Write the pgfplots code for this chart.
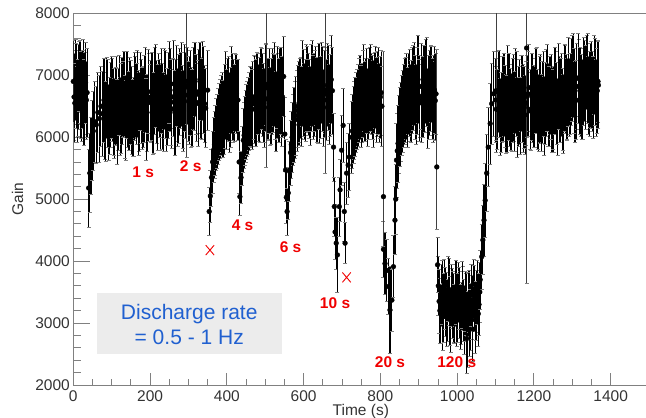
\documentclass[border=0pt]{standalone}
\usepackage{fontspec}
\setmainfont{Liberation Sans}
\usepackage{pgfplots}
\usepackage{pgfplotstable}
\pgfplotsset{compat=1.18}
\definecolor{axgray}{RGB}{128,128,128}
\definecolor{txtblue}{RGB}{32,96,208}
\definecolor{boxgray}{RGB}{236,236,236}
\definecolor{lblred}{RGB}{240,0,0}

\pgfplotstableread{
x y e
0 6900 660
4 6550 640
8 6830 690
12 6630 620
16 6980 560
20 6690 700
24 6770 630
28 6560 690
32 6880 650
36 6720 720
40 5180 630
43 5420 640
46 5700 620
49 5950 650
52 6100 640
56 6250 660
60 6200 620
64 6400 650
68 6300 700
72 6500 640
76 6380 690
80 6600 680
85 6255 640
90 6540 710
95 6345 620
100 6650 660
105 6415 700
110 6500 630
115 6245 690
120 6680 650
125 6465 720
130 6610 610
135 6335 670
140 6680 700
145 6425 640
150 6560 680
155 6315 620
160 6660 710
165 6535 650
170 6390 690
175 6745 630
180 6470 660
185 6615 700
190 6290 660
195 6735 680
200 6560 620
205 6665 710
210 6390 650
215 6825 670
220 6480 690
225 6625 630
230 6750 680
235 6405 640
240 6690 710
245 6495 620
250 6880 660
255 6565 700
260 6650 630
265 6395 690
270 6830 650
275 6615 720
280 6760 610
285 6485 670
290 6800 700
300 6580 640
305 6715 680
310 6470 620
315 6815 710
320 6690 650
325 6545 690
330 6900 630
335 6620 660
340 6760 700
345 6470 640
350 6760 650
354 4800 390
357 5050 420
360 5350 460
363 5600 500
366 5800 520
370 5950 560
375 6100 600
380 6250 620
385 6350 650
390 6300 620
395 6500 680
400 6450 640
405 6620 690
410 6480 650
415 6650 700
420 6550 620
425 6700 640
429 6600 650
432 5600 500
434 5040 300
437 5350 420
440 5700 480
443 5950 520
447 6100 560
451 6250 600
456 6350 620
461 6500 650
466 6450 640
471 6650 680
476 6550 700
481 6700 650
486 6600 690
491 6780 660
496 6550 640
501 6800 700
506 6620 650
511 6750 680
516 6580 700
521 6720 640
526 6650 690
531 6800 660
536 6600 680
541 6750 700
545 6650 650
548 6980 650
551 6050 600
553 5470 500
555 5030 420
557 4800 380
560 5100 420
563 5450 480
566 5750 520
570 6000 560
575 6200 600
580 6350 640
585 6500 660
590 6600 680
595 6500 650
600 6720 700
605 6600 660
610 6780 690
615 6620 640
620 6800 700
625 6650 680
630 6750 650
635 6600 690
640 6820 700
645 6650 660
650 6780 680
655 6700 700
660 6600 650
665 6800 690
670 6680 660
675 6750 700
678 5840 550
680 4880 480
682 4470 440
685 4290 420
688 4100 600
693 4880 480
695 5150 500
699 5790 560
703 6190 600
706 4800 480
708 4290 330
712 5420 500
716 5550 520
719 5680 540
725 6000 580
730 6200 620
734 6330 640
740 6450 650
745 6600 680
750 6500 660
755 6700 700
760 6580 650
765 6750 690
770 6620 660
775 6800 700
780 6650 680
785 6720 650
790 6600 690
795 6750 700
800 6650 660
804 6500 650
808 4190 450
812 3960 500
817 3850 500
821 3590 450
825 3210 700
830 3370 500
834 3910 500
838 4660 550
840 5000 560
842 5630 600
846 5900 620
851 6170 640
856 6350 650
861 6500 670
866 6600 690
871 6480 650
876 6720 700
881 6580 660
886 6800 690
891 6650 680
896 6750 700
901 6600 660
906 6820 690
911 6650 650
916 6780 700
921 6900 720
926 6650 680
931 6780 690
936 6620 660
941 6760 700
945 6700 660
949 3940 450
953 3350 520
957 3150 480
961 3500 520
965 3250 560
969 3400 500
973 3100 480
977 3550 520
981 3200 560
985 3450 500
989 3300 540
993 3150 480
997 3500 520
1001 3250 560
1005 3400 500
1009 3100 520
1013 3450 540
1017 3200 500
1021 3350 480
1025 2750 560
1029 3300 520
1033 3000 540
1037 3450 500
1041 2900 520
1045 3400 540
1049 3200 480
1053 3500 520
1057 3300 500
1060 3700 480
1064 4070 520
1067 4340 560
1070 4660 580
1073 4980 600
1077 5420 620
1081 5840 640
1086 6220 650
1090 6540 660
1095 6700 680
1100 6600 680
1105 6450 650
1110 6700 700
1115 6400 640
1120 6620 690
1125 6500 660
1130 6380 620
1135 6650 700
1140 6450 660
1145 6600 680
1150 6420 640
1155 6700 690
1160 6500 650
1165 6350 620
1170 6620 700
1175 6480 660
1180 6550 680
1185 6700 690
1190 6450 650
1195 6650 700
1200 6500 660
1205 6750 690
1210 6450 640
1215 6600 700
1220 6400 620
1225 6700 680
1230 6550 660
1235 6800 700
1240 6500 650
1245 6650 690
1250 6450 640
1255 6750 700
1260 6550 660
1265 6820 690
1270 6600 680
1275 6450 660
1280 6800 700
1285 6650 690
1290 6900 720
1295 6700 660
1300 6950 700
1305 6750 680
1310 6600 640
1315 6950 720
1320 6750 700
1325 6650 690
1330 6900 710
1335 6800 680
1340 6950 720
1345 6700 690
1350 6850 700
1355 6650 660
1360 6900 700
1365 6750 690
1368 6840 700
}\gaindata

\pgfplotstableread{
x y e
2 6650 700
6 6930 650
10 6530 620
14 6810 690
18 6890 670
22 6580 640
26 6980 600
30 6710 660
34 6600 630
82 6350 700
87 6635 650
92 6240 620
97 6525 690
102 6610 670
107 6305 640
112 6600 710
117 6445 660
122 6340 630
127 6585 700
132 6700 680
137 6275 650
142 6530 690
147 6675 620
152 6440 710
157 6335 640
162 6640 660
167 6700 700
172 6410 630
177 6585 680
182 6490 650
187 6765 690
192 6400 620
197 6645 710
202 6580 660
207 6365 640
212 6750 700
217 6565 670
222 6720 630
227 6485 690
232 6500 700
237 6785 650
242 6390 620
247 6675 690
252 6760 670
257 6455 640
262 6860 710
267 6595 660
272 6490 630
277 6735 700
282 6850 680
287 6425 650
292 6680 690
297 6825 620
302 6590 710
307 6485 640
312 6790 660
317 6935 600
322 6560 630
327 6735 680
332 6640 650
337 6910 640
342 6540 620
368 5880 540
373 6050 580
378 6180 610
383 6300 640
388 6400 650
393 6380 660
397 6680 710
402 6610 660
407 6400 640
412 6770 700
417 6580 670
422 6730 630
445 6030 540
449 6180 580
453 6300 610
458 6420 630
463 6480 650
468 6540 690
473 6600 700
478 6720 650
483 6560 620
488 6760 690
493 6690 670
498 6480 640
503 6850 660
508 6610 660
513 6500 630
518 6740 700
523 6850 680
528 6420 650
533 6670 690
538 6810 620
543 6570 710
568 5880 540
573 6120 580
578 6280 620
583 6430 650
588 6550 680
592 6640 650
597 6870 690
602 6580 620
607 6790 710
612 6690 660
617 6510 640
622 6870 700
627 6680 670
632 6830 630
637 6590 690
642 6600 700
647 6880 650
652 6480 620
657 6760 690
662 6840 670
667 6530 640
672 6930 710
727 6100 600
732 6270 630
737 6400 650
742 6520 660
747 6650 680
752 6560 640
757 6800 700
762 6620 660
767 6480 630
772 6760 690
777 6700 650
782 6540 700
787 6800 660
792 6700 680
797 6560 640
802 6720 690
844 5780 610
848 6050 630
853 6250 640
858 6420 660
863 6580 690
868 6660 700
873 6700 650
878 6560 620
883 6760 690
888 6860 670
893 6530 640
898 6930 710
903 6660 660
908 6550 630
913 6790 700
918 6900 680
923 6470 650
928 6720 690
933 6860 620
938 6620 710
943 6590 640
951 3600 480
955 3200 520
959 3450 500
963 3100 540
967 3550 480
971 3300 520
975 3200 500
979 3500 540
983 3050 520
987 3400 480
991 3250 560
995 3450 500
999 3150 520
1003 3500 480
1007 3300 540
1011 3150 500
1015 3400 520
1019 3050 560
1023 3300 500
1027 2900 620
1031 3350 500
1035 3100 540
1039 3250 520
1043 3550 480
1047 3050 540
1051 3350 500
1055 3150 520
1059 3500 480
1102 6450 700
1107 6730 650
1112 6330 620
1117 6610 690
1122 6690 670
1127 6380 640
1132 6780 710
1137 6510 660
1142 6400 630
1147 6640 700
1152 6750 680
1157 6320 650
1162 6570 690
1167 6710 620
1172 6470 710
1177 6360 640
1182 6660 660
1187 6800 700
1192 6420 630
1197 6590 680
1202 6490 650
1207 6760 690
1212 6390 620
1217 6630 710
1222 6560 660
1227 6340 640
1232 6720 700
1237 6530 670
1242 6680 630
1247 6440 690
1252 6450 700
1257 6730 650
1262 6330 620
1267 6610 690
1272 6690 670
1277 6380 640
1282 6780 710
1287 6610 660
1292 6650 630
1297 6890 700
1302 7000 680
1307 6570 650
1312 6820 690
1317 6960 620
1322 6720 710
1327 6610 640
1332 6910 660
1337 7050 600
1342 6670 630
1347 6840 680
1352 6740 650
1357 7010 640
1362 6640 620
1367 6900 660
}\gaindatab

\pgfplotstableread{
x y ep em
295 6900 1300 1220
502 6800 1400 1280
656 6700 1500 1280
808 5040 2350 800
947 5520 1900 1000
1101 6750 1500 800
1181 7440 800 3800
}\outliers

\begin{document}
\begin{tikzpicture}
\useasboundingbox (-73.3pt,-33pt) rectangle (572.7pt,385pt);
\begin{axis}[
  at={(0,0)}, anchor=south west,
  scale only axis, width=575pt, height=371.7pt,
  xmin=0, xmax=1498, ymin=2000, ymax=8000,
  xtick={0,200,...,1400}, ytick={2000,3000,...,8000},
  minor x tick num=3, minor y tick num=4,
  tick align=inside, tick pos=left,
  axis line style={axgray, line width=0.9pt},
  tick style={axgray, line width=0.9pt},
  major tick length=17pt, minor tick length=8pt,
  every major x tick/.append style={/pgfplots/major tick length=12pt},
  every minor x tick/.append style={/pgfplots/minor tick length=6pt},
  /pgf/number format/assume math mode=true,
  /pgf/number format/1000 sep={},
  tick label style={font=\fontsize{15.5}{18}\selectfont, color=black!80},
  yticklabel style={anchor=east, inner sep=0pt, xshift=-3.3pt},
  xticklabel style={anchor=north, inner sep=0pt, yshift=-5pt},
  xlabel={Time (s)}, ylabel={Gain},
  label style={font=\fontsize{15.5}{18}\selectfont, color=black!80},
  xlabel style={at={(axis description cs:0.5,0)}, anchor=north, inner sep=0pt, yshift=-19pt},
  ylabel style={at={(axis description cs:0,0.5)}, anchor=center, inner sep=0pt, yshift=55.8pt},
  clip=true,
]
\fill[boxgray] (axis cs:61,2500) rectangle (axis cs:543,3479);
\node[txtblue, anchor=base, font=\fontsize{21}{25}\selectfont] at (axis cs:302,3065) {Discharge rate};
\node[txtblue, anchor=base, font=\fontsize{21}{25}\selectfont] at (axis cs:302,2646) {= 0.5 - 1 Hz};

\addplot[black, only marks, mark=*, mark size=2.4pt, mark options={fill=black},
  error bars/.cd, y dir=both, y explicit,
  error bar style={black, line width=1.1pt},
  error mark options={rotate=90, axgray, mark size=2pt, line width=0.6pt}]
  table[x=x, y=y, y error=e] {\gaindatab};

\addplot[black, only marks, mark=*, mark size=2.4pt, mark options={fill=black},
  error bars/.cd, y dir=both, y explicit,
  error bar style={black, line width=1.1pt},
  error mark options={rotate=90, axgray, mark size=2pt, line width=0.6pt}]
  table[x=x, y=y, y error=e] {\gaindata};

\addplot[black, only marks, mark=*, mark size=2.4pt, mark options={fill=black},
  error bars/.cd, y dir=both, y explicit,
  error bar style={black!75, line width=0.8pt},
  error mark options={rotate=90, axgray, mark size=2pt, line width=0.6pt}]
  table[x=x, y=y, y error plus=ep, y error minus=em] {\outliers};

\addplot[only marks, mark=x, lblred, mark size=7pt, mark options={line width=0.9pt, xscale=0.85}]
  coordinates {(356,4177) (712,3737)};

\begin{scope}[every node/.style={lblred, font=\bfseries\fontsize{15.5}{18}\selectfont, inner sep=0pt}]
\node at (axis cs:182,5438) {1 s};
\node at (axis cs:306,5540) {2 s};
\node at (axis cs:441,4583) {4 s};
\node at (axis cs:566,4223) {6 s};
\node at (axis cs:682,3319) {10 s};
\node at (axis cs:825,2376) {20 s};
\node at (axis cs:999,2376) {120 s};
\end{scope}
\end{axis}
\end{tikzpicture}
\end{document}
